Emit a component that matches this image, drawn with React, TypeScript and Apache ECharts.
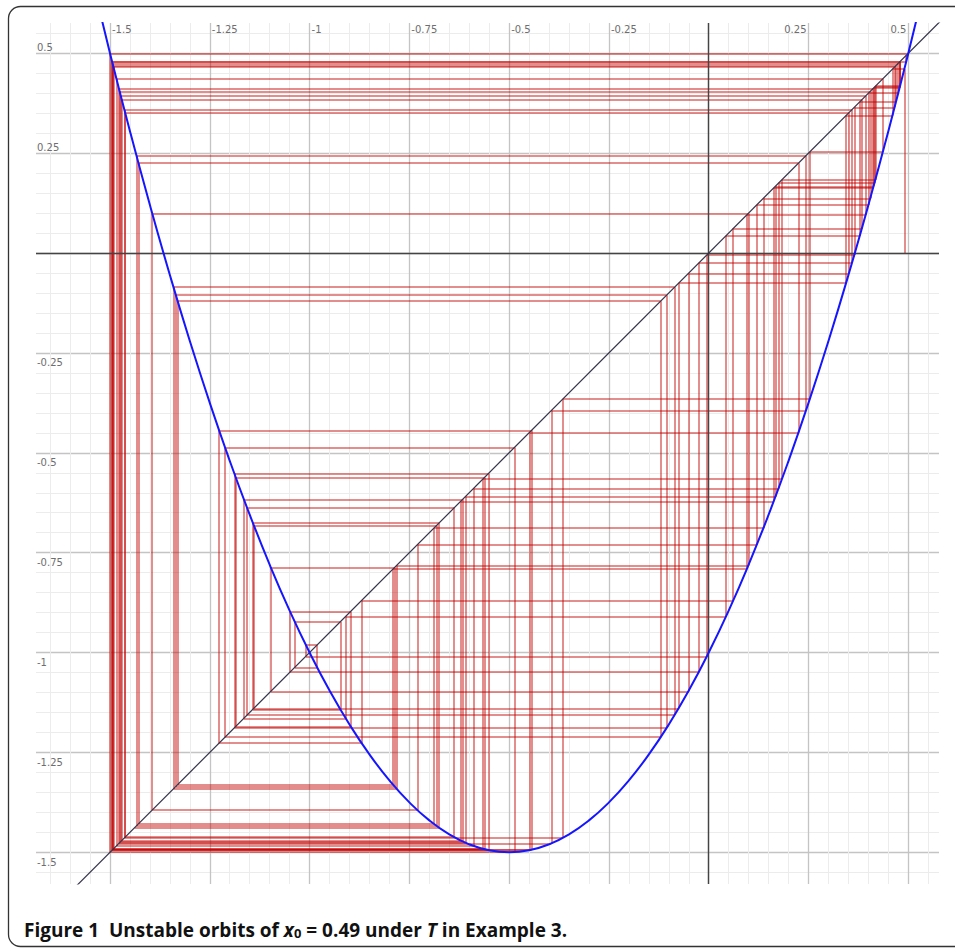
import React, { useEffect, useRef } from "react";
import * as echarts from "echarts";

// Orbit of x0 = 0.49 under T (iterates x0 .. x100)
const orbit: number[] = [
  0.49, 0.4602, 0.344, -0.0754, -1.1395, -0.6821, -1.4337, 0.2435, -0.3944, -1.4777,
  0.4118, 0.1627, -0.6215, -1.4705, 0.3836, 0.0614, -0.8696, -1.2267, -0.4437, -1.4937,
  0.4747, 0.4001, 0.1205, -0.73, -1.3942, 0.0992, -0.782, -1.3409, -0.0856, -1.1566,
  -0.6377, -1.4621, 0.3511, -0.0511, -1.097, -0.7872, -1.3351, -0.1054, -1.1885, -0.5519,
  -1.4946, 0.4785, 0.4151, 0.1747, -0.5896, -1.4839, 0.4362, 0.253, -0.3659, -1.464,
  0.3587, -0.0252, -1.0491, -0.897, -1.1848, -0.5622, -1.4923, 0.4691, 0.3785, 0.0434,
  -0.9095, -1.1647, -0.6164, -1.4729, 0.3931, 0.0954, -0.7911, -1.3306, -0.1204, -1.2117,
  -0.4869, -1.4997, 0.4986, 0.4945, 0.478, 0.413, 0.1671, -0.6098, -1.4759, 0.4047,
  0.1369, -0.6888, -1.4287, 0.225, -0.4489, -1.4948, 0.4791, 0.4175, 0.1835, -0.5657,
  -1.4914, 0.4656, 0.3647, -0.0047, -1.0094, -0.9811, -1.0371, -0.9231, -1.142, -0.6756,
  -1.4383,
];

// The map T (blue parabola) sampled
const curveX: number[] = [
  -1.55, -1.5, -1.45, -1.4, -1.35, -1.3, -1.25, -1.2, -1.15, -1.1, -1.05, -1.0, -0.95, -0.9,
  -0.85, -0.8, -0.75, -0.7, -0.65, -0.6, -0.55, -0.5, -0.45, -0.4, -0.35, -0.3, -0.25, -0.2,
  -0.15, -0.1, -0.05, 0, 0.05, 0.1, 0.15, 0.2, 0.25, 0.3, 0.35, 0.4, 0.45, 0.5, 0.55,
];
const curveY: number[] = [
  0.705, 0.5, 0.305, 0.12, -0.055, -0.22, -0.375, -0.52, -0.655, -0.78, -0.895, -1.0, -1.095,
  -1.18, -1.255, -1.32, -1.375, -1.42, -1.455, -1.48, -1.495, -1.5, -1.495, -1.48, -1.455,
  -1.42, -1.375, -1.32, -1.255, -1.18, -1.095, -1.0, -0.895, -0.78, -0.655, -0.52, -0.375,
  -0.22, -0.055, 0.12, 0.305, 0.5, 0.705,
];

// Diagonal y = x endpoints
const diagonal: number[][] = [
  [-1.7, -1.7],
  [0.6, 0.6],
];

// Tick labels
const xLabelsNeg: number[] = [-1.5, -1.25, -1, -0.75, -0.5, -0.25];
const xLabelsPos: number[] = [0.25, 0.5];
const yLabelsPos: number[] = [0.5, 0.25];
const yLabelsNeg: number[] = [-0.25, -0.5, -0.75, -1, -1.25, -1.5];
const majorTicks: number[] = [-1.5, -1.25, -1, -0.75, -0.5, -0.25, 0, 0.25, 0.5];

const X_MIN = -1.6854;
const X_MAX = 0.5769;
const Y_MIN = -1.5793;
const Y_MAX = 0.5758;

function minorTicks(lo: number, hi: number): number[] {
  const out: number[] = [];
  for (let i = Math.ceil(lo * 20); i <= Math.floor(hi * 20); i++) out.push(Math.round(i * 5) / 100);
  return out;
}

export default function App() {
  const ref = useRef<HTMLDivElement>(null);
  useEffect(() => {
    if (!ref.current) return;
    const chart = echarts.init(ref.current, null, { renderer: "svg" });

    const segments: { coords: number[][] }[] = [];
    segments.push({ coords: [[orbit[0], 0], [orbit[0], orbit[1]]] });
    for (let n = 1; n < orbit.length; n++) {
      segments.push({ coords: [[orbit[n - 1], orbit[n]], [orbit[n], orbit[n]]] });
      if (n + 1 < orbit.length) {
        segments.push({ coords: [[orbit[n], orbit[n]], [orbit[n], orbit[n + 1]]] });
      }
    }
    const curve = curveX.map((x, i) => [x, curveY[i]]);

    const labelFont = { fontFamily: "DejaVu Sans", fontSize: 10, color: "#6e6e6e" };
    const hidden = { show: false };
    const baseX = { type: "value" as const, min: X_MIN, max: X_MAX, gridIndex: 0 };
    const baseY = { type: "value" as const, min: Y_MIN, max: Y_MAX, gridIndex: 0 };
    const minorX = minorTicks(X_MIN, X_MAX);
    const minorY = minorTicks(Y_MIN, Y_MAX);

    const capFont = { fontFamily: "Open Sans", fontWeight: "bold", fill: "#111111" };

    const option: any = {
      animation: false,
      backgroundColor: "#ffffff",
      grid: { left: 36, right: 16, top: 23, bottom: 65, containLabel: false },
      xAxis: [
        {
          ...baseX,
          position: "bottom",
          axisLine: hidden,
          axisTick: { show: false, customValues: minorX },
          axisLabel: { show: false },
          splitLine: { show: true, lineStyle: { color: "#ececec", width: 1 } },
        },
        {
          ...baseX,
          position: "top",
          axisLine: hidden,
          axisTick: { show: false, customValues: majorTicks },
          splitLine: { show: true, lineStyle: { color: "#c4c4c4", width: 1.3 } },
          axisLabel: {
            show: true,
            inside: true,
            customValues: xLabelsNeg,
            formatter: (v: number) => String(v),
            align: "left",
            verticalAlign: "top",
            margin: 0,
            padding: [1, 0, 0, 2],
            ...labelFont,
          },
        },
        {
          ...baseX,
          position: "top",
          axisLine: hidden,
          axisTick: { show: false, customValues: xLabelsPos },
          splitLine: hidden,
          axisLabel: {
            show: true,
            inside: true,
            customValues: xLabelsPos,
            formatter: (v: number) => String(v),
            align: "right",
            verticalAlign: "top",
            margin: 0,
            padding: [1, 2, 0, 0],
            ...labelFont,
          },
        },
      ],
      yAxis: [
        {
          ...baseY,
          position: "left",
          axisLine: hidden,
          axisTick: { show: false, customValues: minorY },
          axisLabel: { show: false },
          splitLine: { show: true, lineStyle: { color: "#ececec", width: 1 } },
        },
        {
          ...baseY,
          position: "left",
          axisLine: hidden,
          axisTick: { show: false, customValues: majorTicks },
          splitLine: { show: true, lineStyle: { color: "#c4c4c4", width: 1.3 } },
          axisLabel: {
            show: true,
            inside: true,
            customValues: yLabelsNeg,
            formatter: (v: number) => String(v),
            align: "left",
            verticalAlign: "top",
            margin: 1,
            padding: [5, 0, 0, 0],
            ...labelFont,
          },
        },
        {
          ...baseY,
          position: "left",
          axisLine: hidden,
          axisTick: { show: false, customValues: yLabelsPos },
          splitLine: hidden,
          axisLabel: {
            show: true,
            inside: true,
            customValues: yLabelsPos,
            formatter: (v: number) => String(v),
            align: "left",
            verticalAlign: "bottom",
            margin: 1,
            padding: [0, 0, 1, 0],
            ...labelFont,
          },
        },
      ],
      series: [
        {
          type: "line",
          name: "axes",
          data: [],
          xAxisIndex: 0,
          yAxisIndex: 0,
          z: 3,
          silent: true,
          markLine: {
            silent: true,
            symbol: ["none", "none"],
            label: { show: false },
            lineStyle: { color: "#444444", width: 1.4, type: "solid" },
            data: [{ xAxis: 0 }, { yAxis: 0 }],
          },
        },
        {
          type: "lines",
          name: "orbit",
          coordinateSystem: "cartesian2d",
          xAxisIndex: 0,
          yAxisIndex: 0,
          z: 4,
          silent: true,
          lineStyle: { color: "#c20000", width: 1.5, opacity: 0.6, curveness: 0 },
          data: segments,
        },
        {
          type: "line",
          name: "diagonal",
          xAxisIndex: 0,
          yAxisIndex: 0,
          z: 5,
          silent: true,
          showSymbol: false,
          symbol: "none",
          lineStyle: { color: "#33334a", width: 1.2 },
          data: diagonal,
          clip: true,
        },
        {
          type: "line",
          name: "T",
          xAxisIndex: 0,
          yAxisIndex: 0,
          z: 6,
          silent: true,
          showSymbol: false,
          symbol: "none",
          smooth: 0.5,
          lineStyle: { color: "#1515ff", width: 2 },
          data: curve,
          clip: true,
        },
      ],
      graphic: [
        {
          type: "rect",
          z: 100,
          silent: true,
          shape: { x: 8.5, y: 6.5, width: 990, height: 940, r: 12 },
          style: { fill: "none", stroke: "#333333", lineWidth: 1.3 },
        },
        {
          type: "text",
          z: 100,
          silent: true,
          x: 24,
          y: 939,
          style: {
            text:
              "{b|Figure 1  Unstable orbits of }{i|x}{s|0}{b| = 0.49 under }{i|T}{b| in Example 3.}",
            verticalAlign: "bottom",
            align: "left",
            rich: {
              b: { ...capFont, fontSize: 19, lineHeight: 24, verticalAlign: "bottom" },
              i: { ...capFont, fontStyle: "italic", fontSize: 19, lineHeight: 24, verticalAlign: "bottom" },
              s: { ...capFont, fontSize: 13, lineHeight: 13, verticalAlign: "bottom" },
            },
          },
        },
      ],
    };
    chart.setOption(option);
    return () => chart.dispose();
  }, []);
  return (
    <div
      ref={ref}
      style={{ position: "absolute", left: 0, top: 0, width: 955, height: 949 }}
    />
  );
}
